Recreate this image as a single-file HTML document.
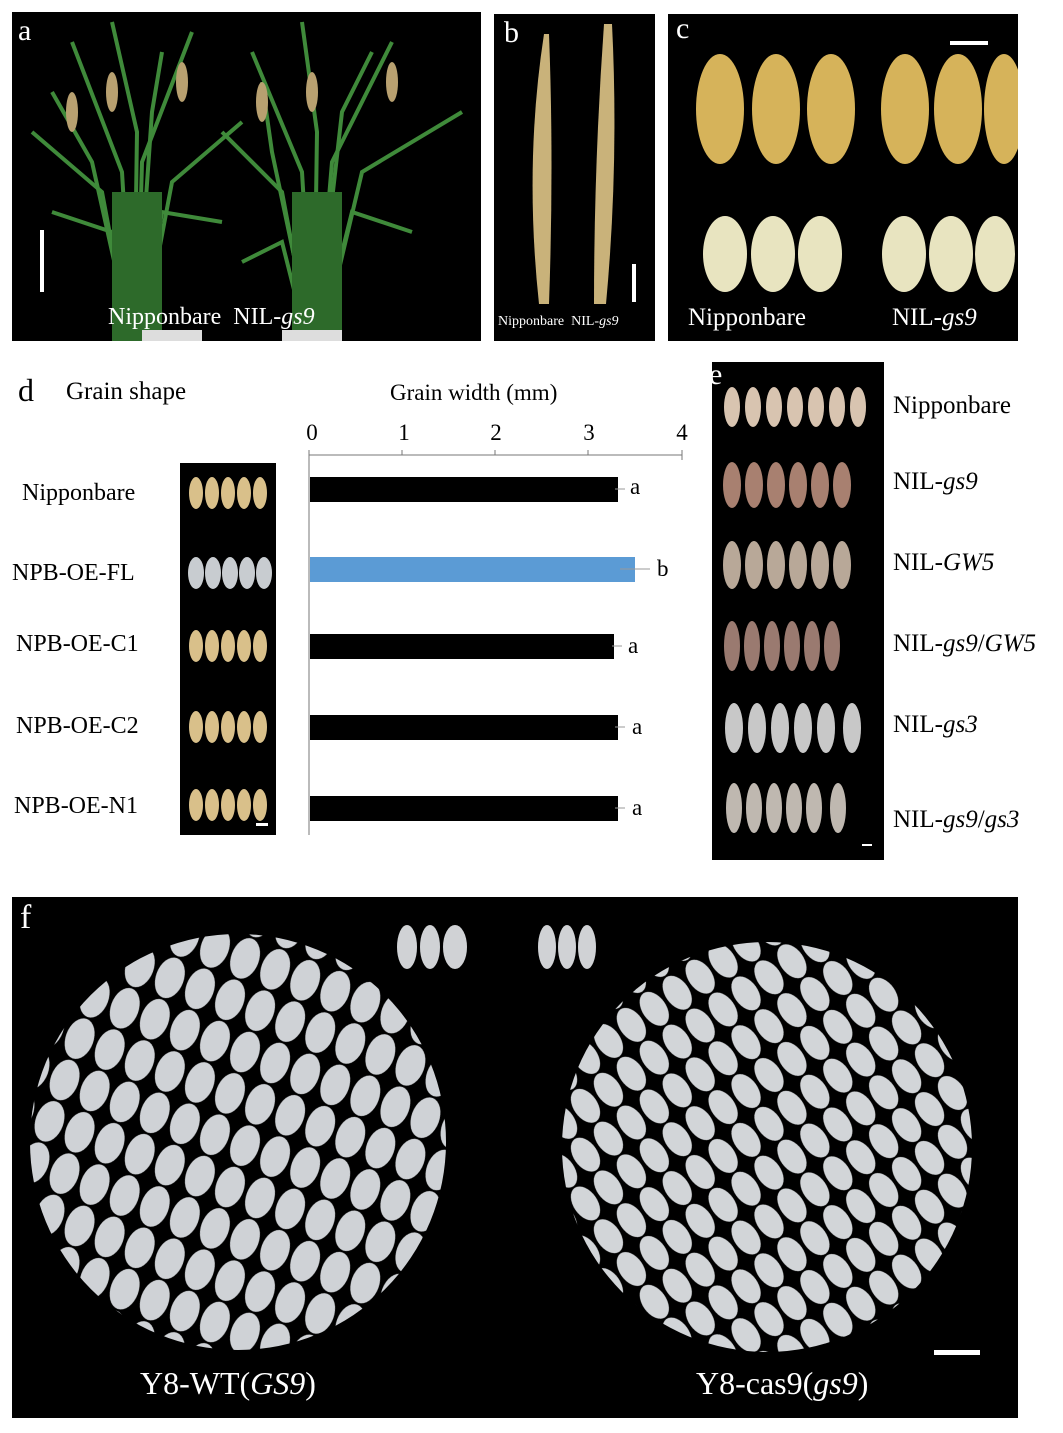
<!DOCTYPE html>
<html><head><meta charset="utf-8"><style>
body{margin:0;width:1063px;height:1433px;background:#fff;position:relative;overflow:hidden;font-family:"Liberation Serif",serif}
.p{position:absolute;background:#000;overflow:hidden}
.t{position:absolute;white-space:nowrap}
.w{color:#fff}
i{font-style:italic}
</style></head><body>

<!-- panel a -->
<div class="p" style="left:12px;top:12px;width:469px;height:329px">
<svg width="469" height="329">
<g stroke="#3f8a3a" stroke-width="4" fill="none">
<path d="M120 329 L110 160 L60 30"/><path d="M125 329 L130 150 L180 20"/><path d="M118 329 L90 180 L20 120"/><path d="M130 329 L160 170 L230 110"/><path d="M122 329 L125 120 L100 10"/><path d="M128 329 L150 200 L210 210"/><path d="M115 329 L100 220 L40 200"/><path d="M124 329 L140 100 L150 40"/><path d="M120 329 L80 150 L40 80"/>
<path d="M300 329 L290 160 L240 40"/><path d="M305 329 L320 150 L380 30"/><path d="M298 329 L270 180 L210 120"/><path d="M310 329 L350 160 L450 100"/><path d="M302 329 L305 120 L290 10"/><path d="M308 329 L340 200 L400 220"/><path d="M295 329 L270 230 L230 250"/><path d="M304 329 L330 100 L360 40"/><path d="M300 329 L260 140 L250 70"/>
</g>
<g fill="#2d6a2a"><rect x="100" y="180" width="50" height="149"/><rect x="280" y="180" width="50" height="149"/></g>
<g fill="#b8a070"><ellipse cx="60" cy="100" rx="6" ry="20"/><ellipse cx="100" cy="80" rx="6" ry="20"/><ellipse cx="170" cy="70" rx="6" ry="20"/><ellipse cx="250" cy="90" rx="6" ry="20"/><ellipse cx="300" cy="80" rx="6" ry="20"/><ellipse cx="380" cy="70" rx="6" ry="20"/></g>
<rect x="28" y="218" width="4" height="62" fill="#fff"/>
<rect x="130" y="318" width="60" height="11" fill="#ddd"/><rect x="270" y="318" width="60" height="11" fill="#ddd"/>
</svg>
<div class="t w" style="left:6px;top:2px;font-size:30px">a</div>
<div class="t w" style="left:96px;top:292px;font-size:24px">Nipponbare &nbsp;NIL-<i>gs9</i></div>
</div>

<!-- panel b -->
<div class="p" style="left:494px;top:14px;width:161px;height:327px">
<svg width="161" height="327"><g fill="#c9b27a"><path d="M50 20 Q30 150 45 290 L55 290 Q60 150 55 20Z"/><path d="M110 10 Q100 150 100 290 L112 290 Q125 150 118 10Z"/></g>
<rect x="138" y="250" width="4" height="38" fill="#fff"/></svg>
<div class="t w" style="left:10px;top:2px;font-size:30px">b</div>
<div class="t w" style="left:4px;top:300px;font-size:14px">Nipponbare &nbsp;NIL-<i>gs9</i></div>
</div>

<!-- panel c -->
<div class="p" style="left:668px;top:14px;width:350px;height:327px">
<svg width="350" height="327"><g fill="#d6b35a"><ellipse cx="52" cy="95" rx="24" ry="55"/><ellipse cx="108" cy="95" rx="24" ry="55"/><ellipse cx="163" cy="95" rx="24" ry="55"/><ellipse cx="237" cy="95" rx="24" ry="55"/><ellipse cx="290" cy="95" rx="24" ry="55"/><ellipse cx="336" cy="95" rx="20" ry="55"/></g>
<g fill="#e8e4c0"><ellipse cx="57" cy="240" rx="22" ry="38"/><ellipse cx="105" cy="240" rx="22" ry="38"/><ellipse cx="152" cy="240" rx="22" ry="38"/><ellipse cx="236" cy="240" rx="22" ry="38"/><ellipse cx="283" cy="240" rx="22" ry="38"/><ellipse cx="327" cy="240" rx="20" ry="38"/></g>
<rect x="282" y="27" width="38" height="4" fill="#fff"/></svg>
<div class="t w" style="left:8px;top:-2px;font-size:30px">c</div>
<div class="t w" style="left:20px;top:290px;font-size:25px">Nipponbare</div>
<div class="t w" style="left:224px;top:290px;font-size:25px">NIL-<i>gs9</i></div>
</div>

<!-- panel d -->
<div class="t" style="left:18px;top:372px;font-size:32px">d</div>
<div class="t" style="left:66px;top:378px;font-size:25px">Grain shape</div>
<div class="t" style="left:390px;top:380px;font-size:23px">Grain width (mm)</div>
<div class="t" style="left:22px;top:480px;font-size:24px">Nipponbare</div>
<div class="t" style="left:12px;top:560px;font-size:24px">NPB-OE-FL</div>
<div class="t" style="left:16px;top:631px;font-size:24px">NPB-OE-C1</div>
<div class="t" style="left:16px;top:713px;font-size:24px">NPB-OE-C2</div>
<div class="t" style="left:14px;top:793px;font-size:24px">NPB-OE-N1</div>
<div class="p" style="left:180px;top:463px;width:96px;height:372px">
<svg width="96" height="372"><g fill="#d9c08a">
<ellipse cx="16" cy="30" rx="7" ry="16"/><ellipse cx="32" cy="30" rx="7" ry="16"/><ellipse cx="48" cy="30" rx="7" ry="16"/><ellipse cx="64" cy="30" rx="7" ry="16"/><ellipse cx="80" cy="30" rx="7" ry="16"/>
<ellipse cx="16" cy="183" rx="7" ry="16"/><ellipse cx="32" cy="183" rx="7" ry="16"/><ellipse cx="48" cy="183" rx="7" ry="16"/><ellipse cx="64" cy="183" rx="7" ry="16"/><ellipse cx="80" cy="183" rx="7" ry="16"/>
<ellipse cx="16" cy="264" rx="7" ry="16"/><ellipse cx="32" cy="264" rx="7" ry="16"/><ellipse cx="48" cy="264" rx="7" ry="16"/><ellipse cx="64" cy="264" rx="7" ry="16"/><ellipse cx="80" cy="264" rx="7" ry="16"/>
<ellipse cx="16" cy="342" rx="7" ry="16"/><ellipse cx="32" cy="342" rx="7" ry="16"/><ellipse cx="48" cy="342" rx="7" ry="16"/><ellipse cx="64" cy="342" rx="7" ry="16"/><ellipse cx="80" cy="342" rx="7" ry="16"/></g>
<g fill="#c8ccd0"><ellipse cx="16" cy="110" rx="8" ry="16"/><ellipse cx="33" cy="110" rx="8" ry="16"/><ellipse cx="50" cy="110" rx="8" ry="16"/><ellipse cx="67" cy="110" rx="8" ry="16"/><ellipse cx="84" cy="110" rx="8" ry="16"/></g>
<rect x="76" y="360" width="12" height="3" fill="#fff"/></svg></div>
<svg style="position:absolute;left:290px;top:410px" width="420" height="430">
<g font-family="Liberation Serif" font-size="23" fill="#000" text-anchor="middle">
<text x="22" y="30">0</text><text x="114" y="30">1</text><text x="206" y="30">2</text><text x="299" y="30">3</text><text x="392" y="30">4</text></g>
<g stroke="#777" stroke-width="1"><line x1="19" y1="45" x2="392" y2="45"/><line x1="19" y1="45" x2="19" y2="425"/>
<line x1="19" y1="40" x2="19" y2="45"/><line x1="112" y1="40" x2="112" y2="45"/><line x1="205" y1="40" x2="205" y2="45"/><line x1="298" y1="40" x2="298" y2="45"/><line x1="392" y1="40" x2="392" y2="50"/></g>
<rect x="20" y="67" width="308" height="25" fill="#000"/>
<rect x="20" y="147" width="325" height="25" fill="#5b9bd5"/>
<rect x="20" y="224" width="304" height="25" fill="#000"/>
<rect x="20" y="305" width="308" height="25" fill="#000"/>
<rect x="20" y="386" width="308" height="25" fill="#000"/>
<g stroke="#999"><line x1="325" y1="79" x2="335" y2="79"/><line x1="330" y1="159" x2="360" y2="159"/><line x1="322" y1="236" x2="332" y2="236"/><line x1="325" y1="317" x2="335" y2="317"/><line x1="325" y1="398" x2="335" y2="398"/></g>
<g font-family="Liberation Serif" font-size="23"><text x="340" y="84">a</text><text x="367" y="166">b</text><text x="338" y="243">a</text><text x="342" y="324">a</text><text x="342" y="405">a</text></g>
</svg>

<!-- panel e -->
<div class="p" style="left:712px;top:362px;width:172px;height:498px">
<svg width="172" height="498">
<g fill="#d8c4b0">
<ellipse cx="20" cy="45" rx="8" ry="20"/><ellipse cx="41" cy="45" rx="8" ry="20"/><ellipse cx="62" cy="45" rx="8" ry="20"/><ellipse cx="83" cy="45" rx="8" ry="20"/><ellipse cx="104" cy="45" rx="8" ry="20"/><ellipse cx="125" cy="45" rx="8" ry="20"/><ellipse cx="146" cy="45" rx="8" ry="20"/></g>
<g fill="#a88070">
<ellipse cx="20" cy="123" rx="9" ry="23"/><ellipse cx="42" cy="123" rx="9" ry="23"/><ellipse cx="64" cy="123" rx="9" ry="23"/><ellipse cx="86" cy="123" rx="9" ry="23"/><ellipse cx="108" cy="123" rx="9" ry="23"/><ellipse cx="130" cy="123" rx="9" ry="23"/></g>
<g fill="#b8a898">
<ellipse cx="20" cy="203" rx="9" ry="24"/><ellipse cx="42" cy="203" rx="9" ry="24"/><ellipse cx="64" cy="203" rx="9" ry="24"/><ellipse cx="86" cy="203" rx="9" ry="24"/><ellipse cx="108" cy="203" rx="9" ry="24"/><ellipse cx="130" cy="203" rx="9" ry="24"/></g>
<g fill="#9a7a70">
<ellipse cx="20" cy="284" rx="8" ry="25"/><ellipse cx="40" cy="284" rx="8" ry="25"/><ellipse cx="60" cy="284" rx="8" ry="25"/><ellipse cx="80" cy="284" rx="8" ry="25"/><ellipse cx="100" cy="284" rx="8" ry="25"/><ellipse cx="120" cy="284" rx="8" ry="25"/></g>
<g fill="#c8c8c8">
<ellipse cx="22" cy="366" rx="9" ry="25"/><ellipse cx="45" cy="366" rx="9" ry="25"/><ellipse cx="68" cy="366" rx="9" ry="25"/><ellipse cx="91" cy="366" rx="9" ry="25"/><ellipse cx="114" cy="366" rx="9" ry="25"/><ellipse cx="140" cy="366" rx="9" ry="25"/></g>
<g fill="#bfb8b0">
<ellipse cx="22" cy="446" rx="8" ry="25"/><ellipse cx="42" cy="446" rx="8" ry="25"/><ellipse cx="62" cy="446" rx="8" ry="25"/><ellipse cx="82" cy="446" rx="8" ry="25"/><ellipse cx="102" cy="446" rx="8" ry="25"/><ellipse cx="126" cy="446" rx="8" ry="25"/></g>
<rect x="150" y="482" width="10" height="2" fill="#fff"/></svg>
<div class="t w" style="left:-3px;top:-4px;font-size:30px">e</div>
</div>
<div class="t" style="left:893px;top:392px;font-size:25px">Nipponbare</div>
<div class="t" style="left:893px;top:468px;font-size:25px">NIL-<i>gs9</i></div>
<div class="t" style="left:893px;top:549px;font-size:25px">NIL-<i>GW5</i></div>
<div class="t" style="left:893px;top:630px;font-size:25px">NIL-<i>gs9</i>/<i>GW5</i></div>
<div class="t" style="left:893px;top:711px;font-size:25px">NIL-<i>gs3</i></div>
<div class="t" style="left:893px;top:806px;font-size:25px">NIL-<i>gs9</i>/<i>gs3</i></div>

<!-- panel f -->
<div class="p" style="left:12px;top:897px;width:1006px;height:521px">
<svg width="1006" height="521">
<defs>
<pattern id="g1" width="32" height="44" patternUnits="userSpaceOnUse" patternTransform="rotate(20)">
<ellipse cx="16" cy="22" rx="14" ry="21" fill="#cfd2d6"/></pattern>
<pattern id="g2" width="28" height="40" patternUnits="userSpaceOnUse" patternTransform="rotate(-35)">
<ellipse cx="14" cy="20" rx="12" ry="19" fill="#d2d5d8"/></pattern>
</defs>
<circle cx="226" cy="245" r="208" fill="url(#g1)"/>
<circle cx="755" cy="250" r="205" fill="url(#g2)"/>
<g fill="#d0d2d5"><ellipse cx="395" cy="50" rx="10" ry="22"/><ellipse cx="418" cy="50" rx="10" ry="22"/><ellipse cx="443" cy="50" rx="12" ry="22"/>
<ellipse cx="535" cy="50" rx="9" ry="22"/><ellipse cx="555" cy="50" rx="9" ry="22"/><ellipse cx="575" cy="50" rx="9" ry="22"/></g>
<rect x="922" y="453" width="46" height="5" fill="#fff"/>
</svg>
<div class="t w" style="left:8px;top:2px;font-size:34px">f</div>
<div class="t w" style="left:128px;top:468px;font-size:32px">Y8-WT(<i>GS9</i>)</div>
<div class="t w" style="left:684px;top:468px;font-size:32px">Y8-cas9(<i>gs9</i>)</div>
</div>
</body></html>
